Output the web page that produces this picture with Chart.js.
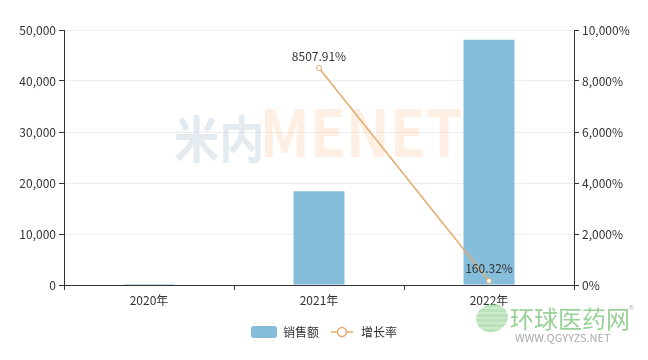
<!DOCTYPE html>
<html>
<head>
<meta charset="utf-8">
<script src="https://cdn.jsdelivr.net/npm/chart.js@4/dist/chart.umd.min.js"></script>
<style>
    html, body { margin: 0; padding: 0; background: #fff; }
    #wrap { width: 648px; height: 360px; }
</style>
</head>
<body>
<div id="wrap"><canvas id="salesChart" width="648" height="360"></canvas></div>
<script>
// data
const years = ['2020年', '2021年', '2022年'];
const sales = [214, 18400, 48100];
const growth = [null, 8507.91, 160.32];
const leftTicks = [0, 10000, 20000, 30000, 40000, 50000];
const rightTicks = [0, 2000, 4000, 6000, 8000, 10000];

const FONT = "'Noto Sans CJK SC', 'Noto Sans', sans-serif";
const barColor = '#85bedb';
const lineColor = '#e5aa6e';

// legend icons
function makeIcon(type) {
    const c = document.createElement('canvas');
    c.width = 26; c.height = 14;
    const g = c.getContext('2d');
    if (type === 'bar') {
        g.fillStyle = barColor;
        g.beginPath();
        g.roundRect(0, 1, 26, 12, 3);
        g.fill();
    } else {
        g.strokeStyle = lineColor;
        g.lineWidth = 1.5;
        g.beginPath();
        g.moveTo(2, 7); g.lineTo(24, 7);
        g.stroke();
        g.fillStyle = '#fff';
        g.beginPath();
        g.arc(13, 7, 4.5, 0, Math.PI * 2);
        g.fill();
        g.stroke();
    }
    return c;
}

// percent labels above the line points
const pointLabels = {
    id: 'pointLabels',
    afterDatasetsDraw(chart) {
        const ctx = chart.ctx;
        const meta = chart.getDatasetMeta(1);
        ctx.save();
        ctx.font = '12px ' + FONT;
        ctx.fillStyle = '#333';
        ctx.textAlign = 'center';
        ctx.textBaseline = 'bottom';
        meta.data.forEach((pt, i) => {
            if (growth[i] === null) return;
            ctx.fillText(growth[i].toFixed(2) + '%', pt.x, pt.y - 6);
        });
        ctx.restore();
    }
};

// draw text squeezed into a box
function boxText(ctx, text, x, top, w, h, color) {
    ctx.save();
    ctx.font = 'bold 100px ' + FONT;
    const m = ctx.measureText(text);
    const tw = m.actualBoundingBoxRight + m.actualBoundingBoxLeft;
    const th = m.actualBoundingBoxAscent + m.actualBoundingBoxDescent;
    ctx.translate(x, top);
    ctx.scale(w / tw, h / th);
    ctx.fillStyle = color;
    ctx.textBaseline = 'alphabetic';
    ctx.fillText(text, m.actualBoundingBoxLeft, m.actualBoundingBoxAscent);
    ctx.restore();
}

// faint site watermarks
const watermark = {
    id: 'watermark',
    beforeDatasetsDraw(chart) {
        const ctx = chart.ctx;
        boxText(ctx, '米内', 175, 134, 86, 48, 'rgba(200, 216, 228, 0.5)');
        boxText(ctx, 'MENET', 265, 134, 196, 48, 'rgba(252, 214, 180, 0.38)');
    },
    afterDraw(chart) {
        const ctx = chart.ctx;
        ctx.save();
        // globe
        ctx.globalAlpha = 0.6;
        ctx.fillStyle = '#8ccf8a';
        ctx.beginPath();
        ctx.ellipse(492, 318, 16, 14, -0.3, 0, Math.PI * 2);
        ctx.fill();
        ctx.strokeStyle = '#fff';
        ctx.lineWidth = 1;
        for (let k = -2; k <= 2; k++) {
            ctx.beginPath();
            ctx.moveTo(477, 318 + k * 5);
            ctx.lineTo(507, 318 + k * 5);
            ctx.stroke();
        }
        ctx.globalAlpha = 0.75;
        ctx.fillStyle = '#74c174';
        ctx.font = '24px ' + FONT;
        ctx.textBaseline = 'alphabetic';
        ctx.fillText('环球医药网', 510, 328);
        ctx.font = '10px ' + FONT;
        ctx.fillStyle = '#aaa';
        ctx.fillText('®', 629, 313);
        ctx.font = '11px ' + FONT;
        ctx.fillStyle = '#8c8c8c';
        ctx.fillText('WWW.QGYYZS.NET', 515, 342);
        ctx.restore();
    }
};

const ctx = document.getElementById('salesChart').getContext('2d');

const salesChart = new Chart(ctx, {
    data: {
        labels: years,
        datasets: [{
            type: 'bar',
            label: '销售额',
            data: sales,
            backgroundColor: barColor,
            borderWidth: 0,
            categoryPercentage: 1,
            barPercentage: 0.3,
            yAxisID: 'y',
            order: 2
        }, {
            type: 'line',
            label: '增长率',
            data: growth,
            borderColor: lineColor,
            borderWidth: 1.5,
            pointRadius: 2.5,
            pointBorderWidth: 1,
            pointBackgroundColor: '#fff',
            pointBorderColor: lineColor,
            tension: 0,
            yAxisID: 'y1',
            order: 1
        }]
    },
    options: {
        responsive: false,
        animation: false,
        devicePixelRatio: 1,
        layout: { padding: { top: 30, left: 0, right: 0, bottom: 12 } },
        plugins: {
            tooltip: { enabled: false },
            legend: {
                position: 'bottom',
                labels: {
                    usePointStyle: true,
                    pointStyleWidth: 26,
                    padding: 10,
                    color: '#333',
                    font: { family: FONT, size: 12 },
                    generateLabels(chart) {
                        return chart.data.datasets.map((ds, i) => ({
                            text: ds.label,
                            pointStyle: makeIcon(i === 0 ? 'bar' : 'line'),
                            fontColor: '#333',
                            lineWidth: 0,
                            strokeStyle: 'transparent',
                            fillStyle: 'transparent',
                            hidden: false,
                            datasetIndex: i
                        }));
                    }
                }
            }
        },
        scales: {
            x: {
                offset: true,
                grid: {
                    offset: true,
                    drawOnChartArea: false,
                    drawTicks: true,
                    tickLength: 5,
                    tickColor: '#333'
                },
                border: { color: '#333' },
                ticks: { color: '#333', font: { family: FONT, size: 12 }, padding: 3 },
                afterFit(scale) {
                    const lh = scale.chart.legend ? scale.chart.legend.height : 30;
                    scale.height = 360 - 285 - 12 - lh;
                }
            },
            y: {
                position: 'left',
                min: 0,
                max: 50000,
                afterBuildTicks(scale) {
                    scale.ticks = leftTicks.map(v => ({ value: v }));
                },
                grid: { color: '#eeeeee', tickColor: '#333', tickLength: 5 },
                border: { color: '#333' },
                ticks: {
                    color: '#333',
                    padding: 3,
                    font: { family: FONT, size: 12 },
                    callback: v => v.toLocaleString('en-US')
                },
                afterFit(scale) { scale.width = 64; }
            },
            y1: {
                position: 'right',
                min: 0,
                max: 10000,
                afterBuildTicks(scale) {
                    scale.ticks = rightTicks.map(v => ({ value: v }));
                },
                grid: { drawOnChartArea: false, tickColor: '#333', tickLength: 5 },
                border: { color: '#333' },
                ticks: {
                    color: '#333',
                    padding: 3,
                    font: { family: FONT, size: 12 },
                    callback: v => v.toLocaleString('en-US') + '%'
                },
                afterFit(scale) { scale.width = 74; }
            }
        }
    },
    plugins: [watermark, pointLabels]
});
</script>
</body>
</html>
